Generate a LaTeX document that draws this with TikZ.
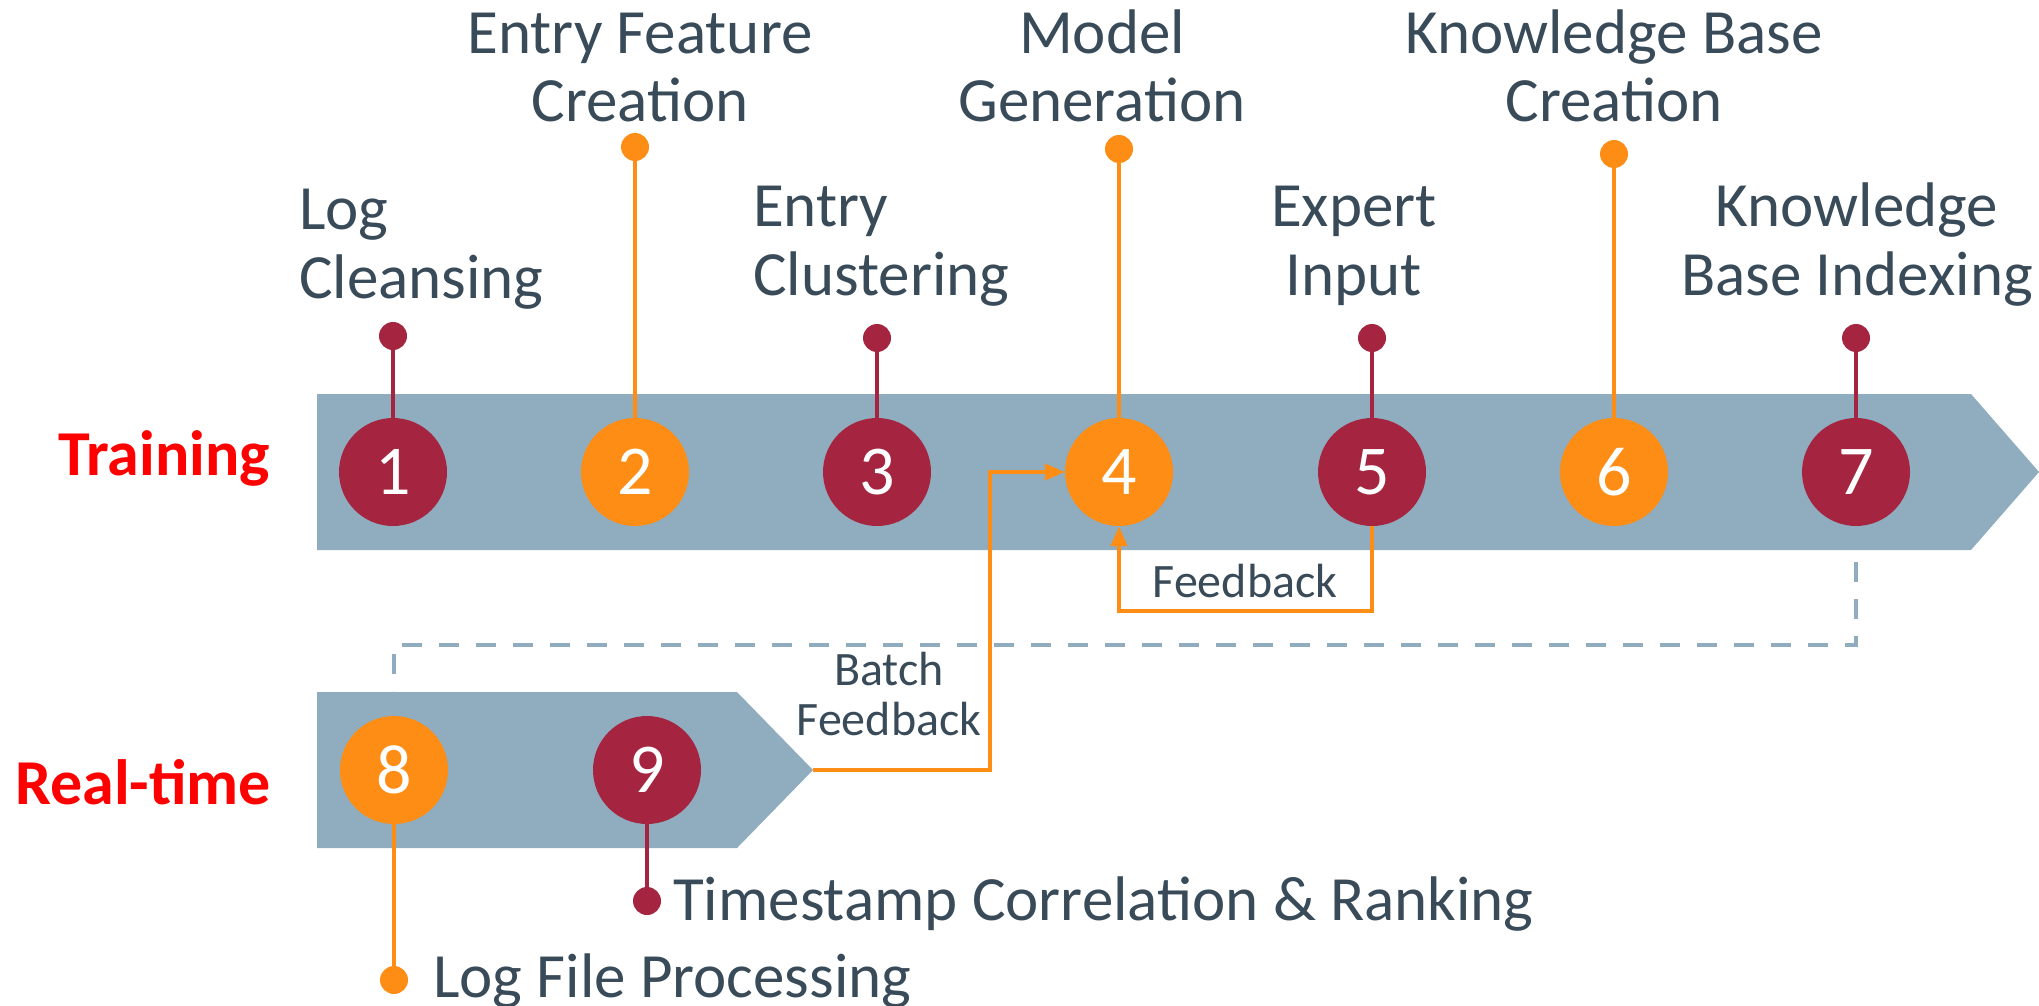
\documentclass[tikz,border=0pt]{standalone}
\usepackage{fontspec}
\setmainfont{Carlito}
\usetikzlibrary{arrows.meta,positioning}
\definecolor{bandblue}{RGB}{143,173,191}
\definecolor{maroon}{RGB}{165,37,64}
\definecolor{tangerine}{RGB}{253,141,20}
\definecolor{slatetext}{RGB}{57,75,89}
\definecolor{lanered}{RGB}{255,0,0}

\begin{document}
\begin{tikzpicture}[
  x=1pt,y=-1pt,
  stage/.style={circle,inner sep=0pt,minimum size=108pt,text=white,
    font=\fontsize{70}{70}\selectfont},
  mstage/.style={stage,fill=maroon},
  ostage/.style={stage,fill=tangerine},
  pindot/.style={circle,inner sep=0pt,minimum size=28pt},
  mpin/.style={pindot,fill=maroon},
  opin/.style={pindot,fill=tangerine},
  mline/.style={draw=maroon,line width=3.5pt},
  oline/.style={draw=tangerine,line width=3.5pt},
  desc/.style={inner sep=0pt,text=slatetext,
    font=\fontsize{63}{69}\selectfont},
  smalldesc/.style={inner sep=0pt,text=slatetext,
    font=\fontsize{48}{50}\selectfont},
  lane/.style={inner sep=0pt,text=lanered,
    font=\bfseries\fontsize{64}{64}\selectfont},
  fbarrow/.style={draw=tangerine,line width=4.5pt,
    -{Triangle[length=20pt,width=16pt]}},
  dashlink/.style={draw=bandblue,line width=4.5pt,dash pattern=on 20pt off 17pt}
]
\useasboundingbox (0,0) rectangle (2039,1006);

% lanes
\fill[bandblue] (317,394) -- (1971,394) -- (2039,472) -- (1971,550)
  -- (317,550) -- cycle;
\fill[bandblue] (317,692) -- (737,692) -- (813,770) -- (737,848)
  -- (317,848) -- cycle;
\coordinate (rtip) at (813,770);
\node[lane,anchor=base west] (train) at (58,475) {Training};
\node[lane,anchor=base west] (rtime) at (15,804) {Real-time};

% training stages
\node[mstage] (clean) at (393,472) {1};
\node[ostage] (feat) at (635,472) {2};
\node[mstage] (clust) at (877,472) {3};
\node[ostage] (model) at (1119,472) {4};
\node[mstage] (expert) at (1372,472) {5};
\node[ostage] (kbase) at (1614,472) {6};
\node[mstage] (kindex) at (1856,472) {7};

% real-time stages
\node[ostage] (logproc) at (394,770) {8};
\node[mstage] (rank) at (647,770) {9};

% pins
\node[mpin] (cleanpin) at (393,336) {};
\node[opin] (featpin) at (635,147) {};
\node[mpin] (clustpin) at (877,338) {};
\node[opin] (modelpin) at (1119,149) {};
\node[mpin] (expertpin) at (1372,338) {};
\node[opin] (kbasepin) at (1614,154) {};
\node[mpin] (kindexpin) at (1856,338) {};
\node[opin] (logprocpin) at (394,980) {};
\node[mpin] (rankpin) at (647,901) {};
\draw[mline] (cleanpin) -- (clean);
\draw[oline] (featpin) -- (feat);
\draw[mline] (clustpin) -- (clust);
\draw[oline] (modelpin) -- (model);
\draw[mline] (expertpin) -- (expert);
\draw[oline] (kbasepin) -- (kbase);
\draw[mline] (kindexpin) -- (kindex);
\draw[oline] (logprocpin) -- (logproc);
\draw[mline] (rankpin) -- (rank);

% texts
\node[desc,align=left,anchor=base west] (cleantxt) at (299,298) {Log\\Cleansing};
\node[desc,align=center,anchor=base] (feattxt) at (640,122) {Entry Feature\\Creation};
\node[desc,align=left,anchor=base west] (clusttxt) at (753,295) {Entry\\Clustering};
\node[desc,align=center,anchor=base] (modeltxt) at (1102,122) {Model\\Generation};
\node[desc,align=center,anchor=base] (experttxt) at (1354,295) {Expert\\Input};
\node[desc,align=center,anchor=base] (kbasetxt) at (1614,122) {Knowledge Base\\Creation};
\node[desc,align=center,anchor=base] (kindextxt) at (1857,295) {Knowledge\\Base Indexing};
\node[desc,anchor=base west] (ranktxt) at (673,920) {Timestamp Correlation \& Ranking};
\node[desc,anchor=base west] (logproctxt) at (433,997) {Log File Processing};

% feedback loops
\draw[fbarrow] (expert.south) -- ++(0,85) -| (model.south);
\node[smalldesc,anchor=base] (fbtxt) at (1245,597) {Feedback};
\draw[fbarrow] (rtip) -- ++(177,0) |- (model.west);
\node[smalldesc,align=center,anchor=base] (batchtxt) at (889,735) {Batch\\Feedback};

% index to real-time
\coordinate (dashA) at (1856,562);
\coordinate (dashB) at (394,691);
\draw[dashlink] (dashA) -- ++(0,83) -| (dashB);
\end{tikzpicture}
\end{document}
